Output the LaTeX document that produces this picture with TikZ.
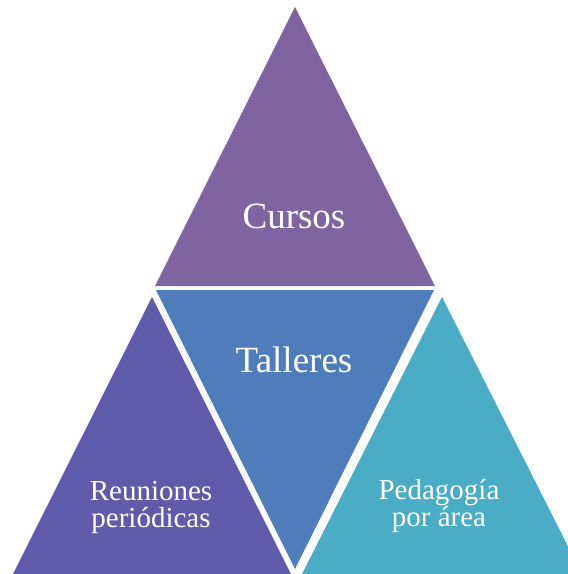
\documentclass[tikz,border=0pt]{standalone}
\usepackage{fontspec}
\setmainfont{Liberation Serif}
\definecolor{purpletri}{RGB}{128,100,162}
\definecolor{bluetri}{RGB}{79,124,187}
\definecolor{violettri}{RGB}{96,90,170}
\definecolor{tealtri}{RGB}{75,172,198}
\begin{document}
\begin{tikzpicture}[x=1pt,y=-1pt]
\tikzstyle{tri}=[draw=none]
\tikzstyle{big}=[text=white, font=\fontsize{37}{37}\selectfont, inner sep=0pt, anchor=base]
\tikzstyle{small}=[text=white, font=\fontsize{29}{27}\selectfont, inner sep=0pt, align=center]
\useasboundingbox (0,0) rectangle (568,574);
\clip (0,0) rectangle (568,574);
	\fill[tri, purpletri] (295,7) -- (155,286) -- (435,286) -- cycle;
	\fill[tri, bluetri] (156,290) -- (434,290) -- (295,569) -- cycle;
	\fill[tri, violettri] (152,297) -- (13,574) -- (291,574) -- cycle;
	\fill[tri, tealtri] (442,297) -- (302,574) -- (582,574) -- cycle;

	\node[big] (cursos) at (294,228) {Cursos};
	\node[big] (talleres) at (294,372) {Talleres};
	\node[small] (reuniones) at (151,507) {Reuniones\\peri\'odicas};
	\node[small] (pedagogia) at (439,506) {Pedagog\'ia\\por \'area};
\end{tikzpicture}
\end{document}
